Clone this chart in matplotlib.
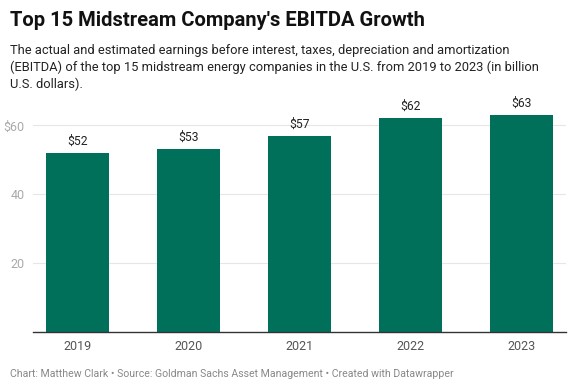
import matplotlib.pyplot as plt

plt.rcParams['font.family'] = ['Roboto', 'DejaVu Sans']

years = ['2019', '2020', '2021', '2022', '2023']
ebitda = [52, 53, 57, 62, 63]
y_ticks = [20, 40, 60]
y_tick_labels = ['20', '40', '$60']

bar_color = '#00705a'

fig = plt.figure(figsize=(5.75, 3.9), dpi=100)
ax = fig.add_axes([33 / 575, 1 - 332 / 390, 533 / 575, 217 / 390])

x = range(len(years))
bars = ax.bar(x, ebitda, width=0.56, color=bar_color, zorder=2)
for xi, v in zip(x, ebitda):
    ax.text(xi, v + 1.5, f'${v}', ha='center', va='bottom', fontsize=8.7, color='#222222')

ax.set_xlim(-0.4, 4.4)
ax.set_ylim(0, 63)
ax.set_yticks(y_ticks)
ax.set_yticklabels(y_tick_labels)
ax.set_xticks(list(x))
ax.set_xticklabels(years)
ax.grid(axis='y', color='#e6e6e6', linewidth=0.8, zorder=0)
for s in ['top', 'right', 'left']:
    ax.spines[s].set_visible(False)
ax.spines['bottom'].set_color('#333333')
ax.spines['bottom'].set_linewidth(1)
ax.tick_params(axis='y', length=0, labelsize=9, labelcolor='#aaaaaa', pad=6)
ax.tick_params(axis='x', length=0, labelsize=9, labelcolor='#555555', pad=6)

fig.text(10 / 575, 1 - 20 / 390, "Top 15 Midstream Company's EBITDA Growth",
         fontsize=14.5, fontweight='bold', va='center', ha='left', color='#111111')
fig.text(10 / 575, 1 - 44 / 390,
         "The actual and estimated earnings before interest, taxes, depreciation and amortization\n"
         "(EBITDA) of the top 15 midstream energy companies in the U.S. from 2019 to 2023 (in billion\n"
         "U.S. dollars).",
         fontsize=9.3, va='top', ha='left', color='#222222', linespacing=1.35)
fig.text(10 / 575, 1 - 374 / 390,
         "Chart: Matthew Clark \u2022 Source: Goldman Sachs Asset Management \u2022 Created with Datawrapper",
         fontsize=7.55, va='center', ha='left', color='#888888')

fig.savefig('out.png', dpi=100)
